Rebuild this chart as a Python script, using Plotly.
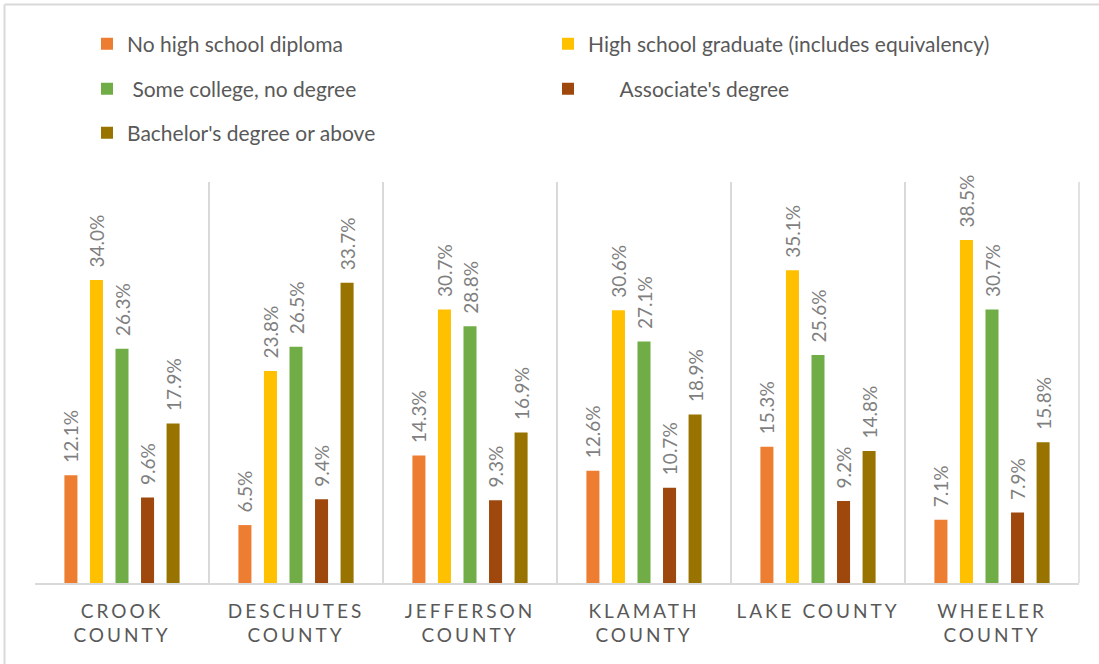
import plotly.graph_objects as go

counties = ["CROOK<br>COUNTY", "DESCHUTES<br>COUNTY", "JEFFERSON<br>COUNTY",
            "KLAMATH<br>COUNTY", "LAKE COUNTY", "WHEELER<br>COUNTY"]

series_names = ["No high school diploma",
                "High school graduate (includes equivalency)",
                "\u00a0Some college, no degree",
                "\u00a0\u00a0\u00a0\u00a0\u00a0\u00a0Associate's degree",
                "Bachelor's degree or above"]

no_hs = [12.1, 6.5, 14.3, 12.6, 15.3, 7.1]
hs_grad = [34.0, 23.8, 30.7, 30.6, 35.1, 38.5]
some_college = [26.3, 26.5, 28.8, 27.1, 25.6, 30.7]
associate = [9.6, 9.4, 9.3, 10.7, 9.2, 7.9]
bachelor = [17.9, 33.7, 16.9, 18.9, 14.8, 15.8]

colors = ["#ED7D31", "#FFC000", "#70AD47", "#9E480E", "#997300"]
legend_ids = ["legend", "legend2", "legend3", "legend4", "legend5"]

FONT = "Lato, 'Liberation Sans', sans-serif"

fig = go.Figure()
for name, vals, col, lg in zip(series_names, [no_hs, hs_grad, some_college, associate, bachelor],
                               colors, legend_ids):
    fig.add_trace(go.Bar(
        x=counties, y=vals, name=name, marker=dict(color=col, line=dict(width=0)),
        text=[f"\u2002{v:.1f}%" for v in vals], textposition="outside", textangle=-90,
        textfont=dict(family=FONT, size=19, color="#7F7F7F"),
        constraintext="none", cliponaxis=False, legend=lg,
    ))

W, H = 1099, 664
L, R, T, B = 35, 20, 182, 81
pw, ph = W - L - R, H - T - B

def px_x(x):
    return (x - L) / pw

def px_y(y):
    return (H - B - y) / ph

leg_common = dict(orientation="h",
                  font=dict(family=FONT, size=21, color="#595959"),
                  xanchor="left", yanchor="middle", bgcolor="rgba(0,0,0,0)",
                  itemwidth=30)

legend_pos = [(87, 44), (548, 44), (87, 89), (548, 89), (87, 133)]
legend_layout = {}
for lg, (lx, ly) in zip(legend_ids, legend_pos):
    legend_layout[lg] = dict(x=px_x(lx), y=px_y(ly), **leg_common)

fig.update_layout(
    width=W, height=H,
    margin=dict(l=L, r=R, t=T, b=B),
    paper_bgcolor="white", plot_bgcolor="white",
    barmode="group", bargap=0.266, bargroupgap=0.49,
    xaxis=dict(tickson="boundaries", showgrid=True, gridcolor="#D9D9D9", gridwidth=1.5,
               showline=True, linecolor="#D9D9D9", linewidth=1.5, mirror=False,
               ticks="", ticklabelstandoff=10,
               tickfont=dict(family=FONT, size=19, color="#595959"),
               fixedrange=True),
    yaxis=dict(range=[0, 45], showgrid=False, showticklabels=False, zeroline=False,
               showline=False, ticks="", fixedrange=True),
    shapes=[
        dict(type="line", xref="paper", yref="paper", x0=px_x(4.5), x1=px_x(1099),
             y0=px_y(4.5), y1=px_y(4.5), line=dict(color="#D9D9D9", width=2)),
        dict(type="line", xref="paper", yref="paper", x0=px_x(4.5), x1=px_x(4.5),
             y0=px_y(4.5), y1=px_y(664), line=dict(color="#D9D9D9", width=2)),
        dict(type="line", xref="paper", yref="paper", x0=1, x1=1,
             y0=0, y1=1, line=dict(color="#D9D9D9", width=1.5)),
    ],
    showlegend=True,
    **legend_layout,
)

post = """
var s = document.createElement('style');
s.innerHTML = '.xtick text { letter-spacing: 3px; }';
document.head.appendChild(s);
"""
fig.write_html("out.html", post_script=post, config={"displayModeBar": False})
